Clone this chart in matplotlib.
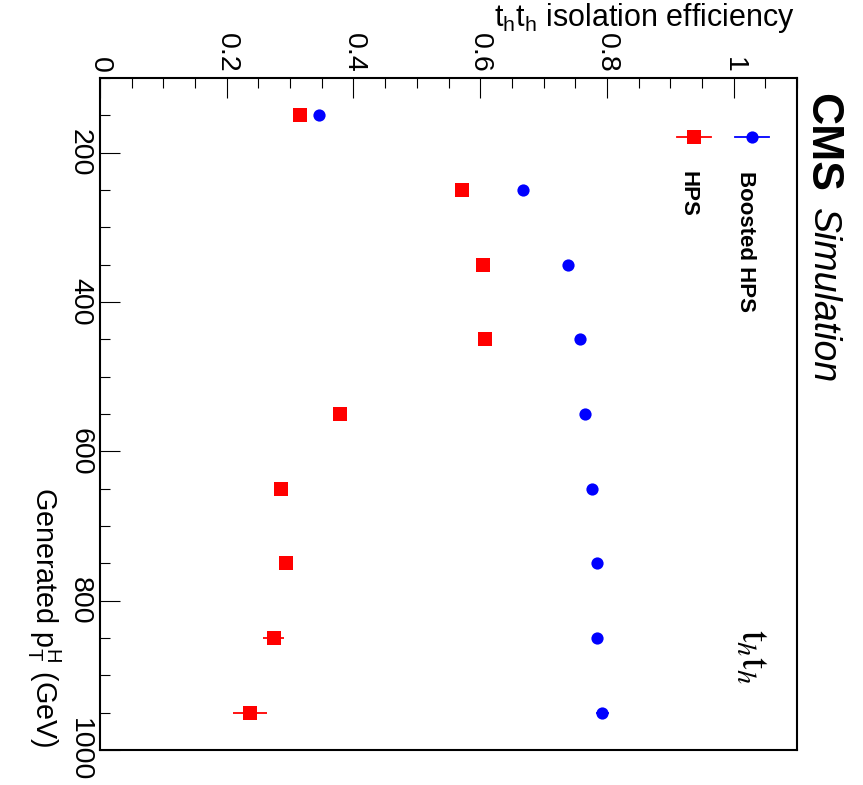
import matplotlib
matplotlib.use("Agg")
import matplotlib.pyplot as plt
from matplotlib.ticker import MultipleLocator, FuncFormatter

plt.rcParams['font.family'] = ['Liberation Sans', 'DejaVu Sans']

# generated pT^H bin centres (GeV)
pt_bins = [150, 250, 350, 450, 550, 650, 750, 850, 950]

# Boosted HPS efficiency + stat. error
eff_boosted = [0.345, 0.667, 0.739, 0.758, 0.766, 0.776, 0.784, 0.785, 0.793]
err_boosted = [0.003, 0.003, 0.003, 0.003, 0.004, 0.004, 0.005, 0.006, 0.011]

# HPS efficiency + stat. error
eff_hps = [0.316, 0.572, 0.605, 0.607, 0.378, 0.286, 0.293, 0.274, 0.237]
err_hps = [0.004, 0.005, 0.006, 0.007, 0.007, 0.008, 0.010, 0.0166, 0.027]

W, H = 863, 785
fig = plt.figure(figsize=(W / 100, H / 100), dpi=100)
ax = fig.add_axes([100 / W, 1 - 750 / H, 697 / W, 672 / H])

# the canvas is turned by 90 deg: efficiency runs left->right, pT runs top->bottom
ax.errorbar(eff_hps, pt_bins, xerr=err_hps, fmt='s', color='red',
            ms=9.4, elinewidth=1.3, capsize=0, mew=0)
ax.errorbar(eff_boosted, pt_bins, xerr=err_boosted, fmt='o', color='blue',
            ms=8.8, elinewidth=1.3, capsize=0, mew=0)

ax.set_xlim(0, 1.1)
ax.set_ylim(1000, 100)

ax.xaxis.set_major_locator(MultipleLocator(0.2))
ax.xaxis.set_minor_locator(MultipleLocator(0.05))
ax.yaxis.set_major_locator(MultipleLocator(200))
ax.yaxis.set_minor_locator(MultipleLocator(50))
ax.xaxis.set_major_formatter(FuncFormatter(lambda v, p: f"{v:g}"))

ax.tick_params(which='both', direction='in', top=True, bottom=False,
               left=True, right=False, labeltop=True, labelbottom=False,
               width=0.8, colors='black')
ax.tick_params(which='major', length=14.4)
ax.tick_params(which='minor', length=7.2)
ax.tick_params(axis='x', labelrotation=-90, pad=3.6, labelsize=20.5)
ax.tick_params(axis='y', labelrotation=-90, pad=5, labelsize=20.5)
for lab in ax.get_yticklabels():
    lab.set_va('center')

for s in ax.spines.values():
    s.set_linewidth(1.5)

# axis titles
fig.text(795 / W, 1 - 26 / H, r'$\mathregular{t_h t_h}$ isolation efficiency',
         ha='right', va='baseline', fontsize=22)
fig.text(35 / W, 1 - 487 / H, r'Generated $\mathregular{p_T^H}$ (GeV)',
         rotation=-90, rotation_mode='anchor', ha='left', va='baseline',
         fontsize=20.7)

# CMS label
fig.text(810 / W, 1 - 93 / H, 'CMS', weight='bold', fontsize=32,
         rotation=-90, rotation_mode='anchor', ha='left', va='baseline')
fig.text(813 / W, 1 - 208 / H, 'Simulation', style='italic', fontsize=27,
         rotation=-90, rotation_mode='anchor', ha='left', va='baseline')

# channel label
fig.text(741 / W, 1 - 629 / H, r'$\mathrm{t}_{h}\mathrm{t}_{h}$',
         math_fontfamily='stix', fontsize=29,
         rotation=-90, rotation_mode='anchor', ha='left', va='baseline')

# hand made legend (rotated)
leg = [('Boosted HPS', 'blue', 'o', 752, 8.8, 740),
       ('HPS', 'red', 's', 694, 9.4, 682)]
for name, col, mk, xm, ms, xt in leg:
    ax.plot([(xm - 17) / W, (xm + 17) / W], [1 - 137 / H] * 2, color=col,
            lw=1.3, transform=fig.transFigure, clip_on=False)
    ax.plot([xm / W], [1 - 137 / H], marker=mk, color=col, ms=ms, mew=0,
            transform=fig.transFigure, clip_on=False)
    fig.text(xt / W, 1 - 171 / H, name, weight='bold', fontsize=16,
             rotation=-90, rotation_mode='anchor', ha='left', va='baseline')

fig.savefig('out.png', dpi=100)
